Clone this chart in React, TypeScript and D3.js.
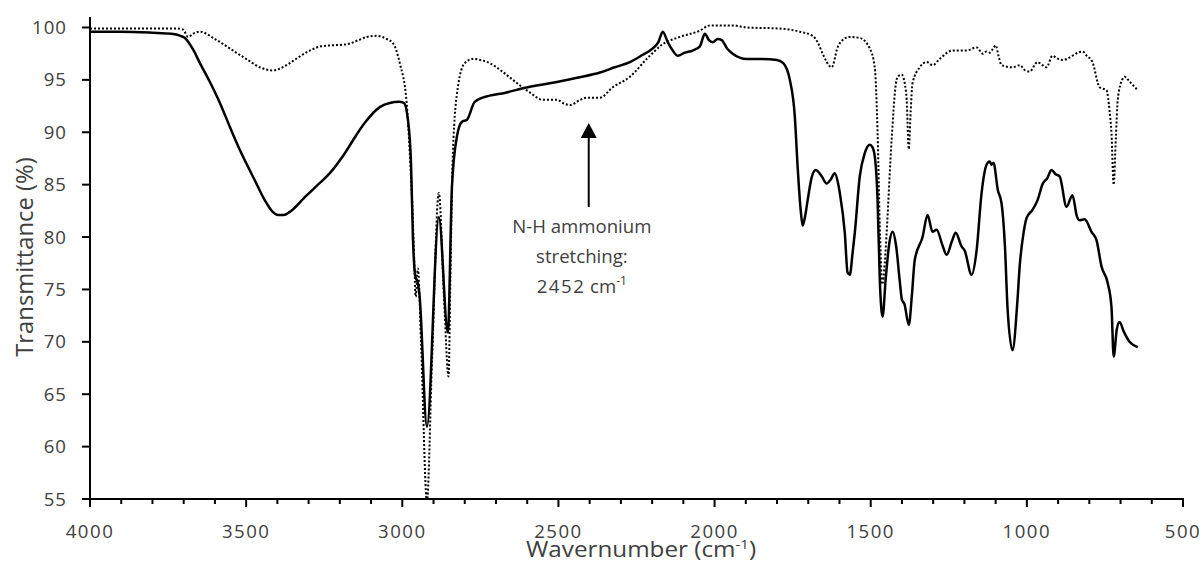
import React from 'react';
import * as d3 from 'd3';

// sample spectrum (solid line)
const solidWavenumber = [
  4000, 3900, 3800, 3740, 3710, 3696, 3670, 3648, 3616, 3584, 3552, 3520, 3472, 3440, 3415, 3398, 3380, 3360,
  3312, 3270, 3232, 3184, 3150, 3120, 3072, 3040, 3010, 2995, 2982, 2972, 2966, 2958, 2950, 2945, 2921, 2883,
  2854, 2841, 2825, 2809, 2793, 2768, 2720, 2680, 2614, 2505, 2440, 2367, 2320, 2271, 2230, 2198, 2180, 2166,
  2150, 2134, 2118, 2095, 2070, 2047, 2031, 2018, 2006, 1990, 1977, 1960, 1942, 1897, 1846, 1800, 1780, 1759,
  1743, 1734, 1724, 1718, 1710, 1702, 1689, 1676, 1657, 1641, 1628, 1615, 1605, 1599, 1583, 1574, 1567, 1558,
  1551, 1535, 1519, 1503, 1495, 1487, 1478, 1471, 1462, 1452, 1440, 1430, 1418, 1407, 1400, 1392, 1378, 1368,
  1359, 1334, 1318, 1302, 1289, 1270, 1257, 1240, 1228, 1209, 1199, 1177, 1161, 1145, 1129, 1119, 1113, 1107,
  1093, 1081, 1070, 1062, 1046, 1030, 1023, 1010, 1001, 982, 966, 949, 935, 921, 908, 895, 873, 854, 840, 831,
  815, 793, 777, 761, 741, 729, 722, 712, 703, 690, 671, 645,
];
const solidTransmittance = [
  99.6, 99.6, 99.5, 99.4, 99.2, 99.0, 97.9, 96.6, 94.8, 92.8, 90.5, 88.3, 85.4, 83.5, 82.4, 82.1, 82.1, 82.4,
  83.8, 85.0, 86.1, 88.0, 89.6, 90.9, 92.4, 92.8, 92.9, 92.8, 91.2, 87.0, 80.0, 76.2, 75.6, 74.5, 61.9, 81.9,
  70.9, 84.8, 89.6, 91.0, 91.2, 92.9, 93.5, 93.7, 94.2, 94.8, 95.2, 95.7, 96.2, 96.7, 97.4, 98.0, 98.6, 99.6,
  98.6, 97.8, 97.3, 97.6, 97.8, 98.2, 99.4, 98.8, 98.6, 98.9, 98.8, 98.0, 97.5, 97.0, 97.0, 96.9, 96.6, 95.0,
  91.5, 86.7, 82.5, 81.1, 82.0, 83.5, 85.7, 86.4, 85.8, 85.1, 85.5, 86.1, 85.2, 84.2, 80.4, 76.6, 76.4, 78.5,
  80.4, 85.8, 88.0, 88.8, 88.6, 87.7, 83.5, 76.0, 72.4, 76.0, 79.5, 80.5, 79.0, 75.8, 74.0, 73.6, 71.6, 74.5,
  77.8, 80.0, 82.1, 80.5, 80.7, 79.2, 78.3, 79.6, 80.4, 79.1, 78.7, 76.4, 78.7, 84.2, 86.9, 87.2, 86.9, 87.1,
  84.5, 83.2, 79.0, 73.3, 69.2, 74.0, 77.2, 80.5, 81.8, 82.6, 83.5, 85.1, 85.6, 86.4, 86.0, 85.8, 82.9, 84.0, 82.0, 81.6,
  81.7, 80.5, 79.7, 77.2, 75.6, 73.3, 68.6, 71.2, 71.9, 71.0, 70.0, 69.5,
];

// reference spectrum (dotted line)
const dottedWavenumber = [
  4000, 3900, 3800, 3720, 3702, 3686, 3670, 3648, 3600, 3542, 3500, 3456, 3414, 3390, 3360, 3330, 3296, 3260,
  3222, 3177, 3140, 3113, 3081, 3050, 3030, 3008, 2986, 2976, 2966, 2962, 2957, 2950, 2940, 2921, 2905, 2883,
  2866, 2852, 2845, 2838, 2822, 2800, 2774, 2750, 2720, 2680, 2646, 2592, 2550, 2505, 2480, 2463, 2430, 2409,
  2367, 2326, 2271, 2217, 2166, 2111, 2047, 2015, 1942, 1897, 1791, 1727, 1686, 1670, 1654, 1625, 1606, 1590,
  1567, 1535, 1503, 1487, 1478, 1470, 1463, 1455, 1449, 1433, 1420, 1414, 1401, 1390, 1385, 1378, 1372, 1366,
  1343, 1321, 1302, 1279, 1238, 1193, 1161, 1141, 1130, 1119, 1110, 1100, 1090, 1081, 1046, 1023, 1005, 991,
  966, 950, 937, 918, 900, 886, 822, 808, 790, 767, 745, 735, 729, 722, 715, 709, 695, 687, 670, 645,
];
const dottedTransmittance = [
  99.9, 99.9, 99.9, 99.9, 99.8, 99.1, 99.4, 99.6, 98.9, 97.8, 97.0, 96.2, 95.9, 96.1, 96.6, 97.2, 97.8, 98.2,
  98.3, 98.4, 98.8, 99.1, 99.2, 98.9, 98.5, 96.6, 92.8, 88.0, 81.6, 78.0, 74.3, 77.0, 70.0, 54.8, 68.0, 84.2,
  74.0, 66.7, 78.0, 88.0, 94.3, 96.6, 97.0, 96.9, 96.6, 95.8, 95.0, 93.8, 93.1, 93.1, 92.7, 92.6, 93.1, 93.3,
  93.3, 94.3, 95.3, 97.0, 98.4, 99.1, 99.7, 100.2, 100.2, 100.0, 99.9, 99.6, 99.2, 98.6, 97.5, 96.2, 98.1, 98.8,
  99.1, 99.0, 98.0, 96.2, 89.9, 80.0, 75.5, 77.5, 80.4, 89.3, 94.5, 95.3, 95.5, 94.5, 93.1, 88.4, 92.0, 94.7,
  96.2, 96.7, 96.4, 97.0, 97.8, 97.8, 98.1, 97.5, 97.7, 97.6, 97.9, 98.3, 97.2, 96.4, 96.2, 96.4, 95.9, 95.8,
  96.7, 96.4, 96.2, 97.3, 97.0, 96.9, 97.7, 97.3, 96.7, 94.3, 94.0, 92.0, 89.9, 85.0, 89.5, 93.1, 95.0, 95.3, 94.8, 94.0,
];

const xTicks = [4000, 3500, 3000, 2500, 2000, 1500, 1000, 500];
const yTicks = [55, 60, 65, 70, 75, 80, 85, 90, 95, 100];
const annotationLines = ['N-H ammonium', 'stretching:'];
const annotationValue = '2452';

const width = 1202;
const height = 570;
const left = 90;
const right = 1183;
const top = 17;
const bottom = 499;

const labelFont = '"Open Sans", sans-serif';
const textColor = '#404040';

const App: React.FC = () => {
  const x = d3.scaleLinear().domain([4000, 500]).range([left, right]);
  const y = d3.scaleLinear().domain([55, 101]).range([bottom, top]);

  const line = d3.line<[number, number]>()
    .x(d => x(d[0]))
    .y(d => y(d[1]))
    .curve(d3.curveMonotoneX);

  const solidPath = line(solidWavenumber.map((w, i) => [w, solidTransmittance[i]] as [number, number])) || '';
  const dottedPath = line(dottedWavenumber.map((w, i) => [w, dottedTransmittance[i]] as [number, number])) || '';

  const minorTicks = d3.range(4000, 499, -100).filter(v => v % 500 !== 0);

  // arrow position
  const arrowX = x(2403);
  const textX = x(2425);

  return (
    <svg width={width} height={height} style={{ position: 'absolute', left: 0, top: 0, background: '#fff' }}>
      <defs>
        <clipPath id="plot-clip">
          <rect x={left} y={top} width={right - left} height={bottom - top} />
        </clipPath>
      </defs>

      <g clipPath="url(#plot-clip)" fill="none" stroke="#000">
        <path d={dottedPath} strokeWidth={2} strokeDasharray="2 2" />
        <path d={solidPath} strokeWidth={2.5} strokeLinejoin="round" />
      </g>

      {/* axes */}
      <line x1={left} x2={left} y1={top} y2={bottom + 1} stroke="#000" strokeWidth={2} />
      <line x1={left - 1} x2={right + 1} y1={bottom} y2={bottom} stroke="#000" strokeWidth={2} />
      {yTicks.map(t => (
        <g key={'y' + t}>
          <line x1={left - 8} x2={left} y1={y(t)} y2={y(t)} stroke="#000" strokeWidth={2} />
          <text x={67} y={y(t) + 6.6} textAnchor="end" fontFamily={labelFont} fontSize={18.6}
            fill={textColor} letterSpacing={1}>{t}</text>
        </g>
      ))}
      {xTicks.map(t => (
        <g key={'x' + t}>
          <line x1={x(t)} x2={x(t)} y1={bottom} y2={bottom + 8} stroke="#000" strokeWidth={2} />
          <text x={x(t)} y={538.4} textAnchor="middle" fontFamily={labelFont} fontSize={18.6}
            fill={textColor} letterSpacing={1.5}>{t}</text>
        </g>
      ))}
      {minorTicks.map(t => (
        <line key={'m' + t} x1={x(t)} x2={x(t)} y1={bottom} y2={bottom + 5} stroke="#000" strokeWidth={2} />
      ))}

      {/* axis titles */}
      <text transform="translate(641, 557) scale(1.155, 1)" textAnchor="middle" fontFamily={labelFont}
        fontSize={21} fill={textColor}>
        Wavernumber (cm<tspan fontSize={13} dy={-8}>-1</tspan><tspan dy={8}>)</tspan>
      </text>
      <text transform="translate(33, 257) rotate(-90)" textAnchor="middle" fontFamily={labelFont}
        fontSize={23.8} fill={textColor}>Transmittance (%)</text>

      {/* annotation */}
      <line x1={arrowX} x2={arrowX} y1={207} y2={137} stroke="#000" strokeWidth={2} />
      <path d={`M${arrowX - 8},138 L${arrowX + 8},138 L${arrowX},123 Z`} fill="#000" />
      {annotationLines.map((s, i) => (
        <text key={s} x={textX} y={233 + i * 30} textAnchor="middle" fontFamily={labelFont} fontSize={18.6}
          fill={textColor}>{s}</text>
      ))}
      <text x={textX} y={293} textAnchor="middle" fontFamily={labelFont} fontSize={18.6} fill={textColor}>
        <tspan letterSpacing={1.5}>{annotationValue}</tspan> cm<tspan fontSize={12} dy={-8}>-1</tspan>
      </text>
    </svg>
  );
};

export default App;
